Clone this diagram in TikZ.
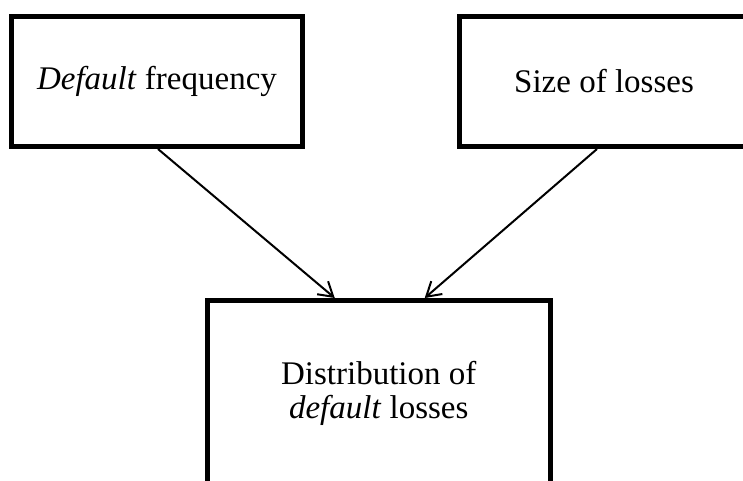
\documentclass[tikz,border=0pt]{standalone}
\usepackage{fontspec}
\setmainfont{Liberation Serif}
\usetikzlibrary{arrows.meta}
\begin{document}
\begin{tikzpicture}[x=1pt,y=-1pt,
  boxnode/.style={draw=black,line width=5pt,fill=white,inner sep=0pt,align=center,
    font=\fontsize{33}{34}\selectfont},
  arr/.style={line width=2pt,-{Straight Barb[length=14pt,width=17pt,line width=2pt]}}]
\useasboundingbox (0,0) rectangle (743,480);
\node[boxnode,minimum width=291pt,minimum height=130pt] (b1) at (157,81.5) {\textit{Default} frequency};
\node[boxnode,minimum width=290pt,minimum height=130pt] (b2) at (604,81.5) {Size of losses};
\node[boxnode,minimum width=342.5pt,minimum height=186pt] (b3) at (378.75,393.5) {Distribution of\\\textit{default} losses};
\draw[arr] ([xshift=1pt]b1.south) -- ([xshift=-44pt]b3.north);
\draw[arr] ([xshift=-7pt]b2.south) -- ([xshift=46pt]b3.north);
\end{tikzpicture}
\end{document}
